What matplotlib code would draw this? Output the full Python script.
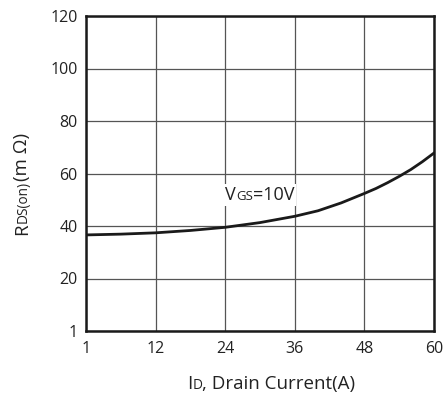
import matplotlib.pyplot as plt
from matplotlib.patches import Rectangle

# curve (ID in A, RDS(on) in mOhm)
current = [0, 6, 12, 18, 24, 30, 36, 40, 44, 48, 50, 52, 54, 56, 58, 60]
rdson = [36.6, 36.9, 37.4, 38.3, 39.5, 41.3, 43.7, 45.8, 48.8, 52.4, 54.3,
         56.5, 58.9, 61.5, 64.5, 67.8]

xticks = [0, 12, 24, 36, 48, 60]
xtick_labels = ["1", "12", "24", "36", "48", "60"]
yticks = [0, 20, 40, 60, 80, 100, 120]
ytick_labels = ["1", "20", "40", "60", "80", "100", "120"]

W, H = 446, 398
BIG, SMALL = 13.5, 9.8
INK = '#222222'

plt.rcParams['font.family'] = ['Open Sans', 'DejaVu Sans']

fig = plt.figure(figsize=(W / 100, H / 100), dpi=100)
ax = fig.add_axes([86 / W, 1 - 331 / H, 348 / W, 315 / H])

ax.set_xlim(0, 60)
ax.set_ylim(0, 120)
ax.set_xticks(xticks)
ax.set_xticklabels(xtick_labels)
ax.set_yticks(yticks)
ax.set_yticklabels(ytick_labels)
ax.tick_params(length=0, labelsize=11.5, colors=INK)
ax.tick_params(axis='x', pad=7)
ax.tick_params(axis='y', pad=6)

ax.grid(True, color='#555555', linewidth=0.9)
ax.set_axisbelow(True)
for s in ax.spines.values():
    s.set_linewidth(1.8)
    s.set_color('#1a1a1a')

ax.plot(current, rdson, color='#1a1a1a', linewidth=2.0, zorder=3)

renderer = fig.canvas.get_renderer()


def rich(x, y, pieces, rotation=0, bg=False, size_big=13):
    # x, y: pixel position (from top-left) of the baseline start
    # pieces: list of (text, fontsize); small caps style subscripts on baseline
    pos = 0.0
    boxes = []
    for txt, size in pieces:
        if rotation == 0:
            fx, fy = (x + pos) / W, 1 - y / H
        else:
            fx, fy = x / W, 1 - (y - pos) / H
        t = fig.text(fx, fy, txt, fontsize=size, color=INK, ha='left',
                     va='baseline', rotation=rotation, rotation_mode='anchor',
                     zorder=5)
        t.set_rotation(0)
        ext = t.get_window_extent(renderer)
        t.set_rotation(rotation)
        pos += ext.width
        boxes.append(t.get_window_extent(renderer))
    if bg:
        x0 = min(b.x0 for b in boxes) - 2
        x1 = max(b.x1 for b in boxes) + 2
        y0 = min(b.y0 for b in boxes) - 2
        y1 = max(b.y1 for b in boxes) + 2
        fig.patches.append(Rectangle((x0 / W, y0 / H), (x1 - x0) / W,
                                     (y1 - y0) / H, transform=fig.transFigure,
                                     facecolor='white', edgecolor='none',
                                     zorder=4))


rich(225, 200, [("V", 13), ("GS", 9.5), ("=10V", 13)], bg=True)
rich(187, 389, [("I", BIG), ("D", SMALL), (", Drain Current(A)", BIG)])
rich(27, 235, [("R", BIG), ("DS(on)", SMALL), ("(m Ω)", BIG)], rotation=90)

fig.savefig('out.png', dpi=100)
